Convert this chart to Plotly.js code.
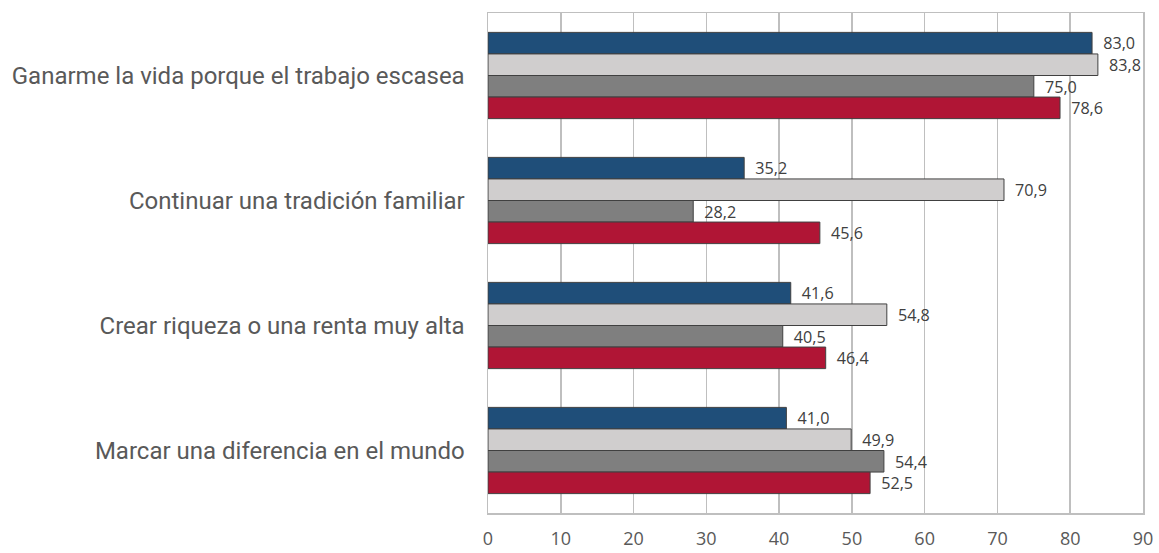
<!DOCTYPE html>
<html><head><meta charset="utf-8">
<script src="https://cdn.plot.ly/plotly-3.0.1.min.js"></script>
<style>body{margin:0;background:#fff}#c{width:1159px;height:553px}</style>
</head><body><div id="c"></div>
<script>
const categories = ["Ganarme la vida porque el trabajo escasea","Continuar una tradición familiar","Crear riqueza o una renta muy alta","Marcar una diferencia en el mundo"];
const seriesNames = ["Serie 1","Serie 2","Serie 3","Serie 4"];
const serie1 = [83.0, 35.2, 41.6, 41.0];
const serie2 = [83.8, 70.9, 54.8, 49.9];
const serie3 = [75.0, 28.2, 40.5, 54.4];
const serie4 = [78.6, 45.6, 46.4, 52.5];
const colors = ["#1F4E79","#D0CECE","#7F7F7F","#B01535"];
const xTicks = [0,10,20,30,40,50,60,70,80,90];

const all = [serie1, serie2, serie3, serie4];
const fmt = v => '\u2002' + v.toFixed(1).replace('.', ',');
const traces = all.map((vals, i) => ({
  type: 'bar', orientation: 'h', name: seriesNames[i],
  y: categories, x: vals,
  text: vals.map(fmt), textposition: 'outside', cliponaxis: false,
  textfont: {family: 'Open Sans, sans-serif', size: 18, color: '#404040'},
  marker: {color: colors[i], line: {color: '#404040', width: 1}},
  hoverinfo: 'x+y'
}));

const layout = {
  width: 1159, height: 553,
  margin: {l: 488, r: 16, t: 13, b: 40},
  barmode: 'group', bargap: 0.31, bargroupgap: 0,
  showlegend: false,
  paper_bgcolor: '#fff', plot_bgcolor: '#fff',
  xaxis: {range: [0, 90], tickvals: xTicks, ticktext: xTicks.map(String),
    showgrid: true, gridcolor: '#BFBFBF', gridwidth: 1.5,
    showline: true, linecolor: '#BFBFBF', linewidth: 1.5, mirror: true,
    zeroline: false, ticks: '', ticklabelstandoff: 9,
    tickfont: {family: 'Open Sans, sans-serif', size: 18, color: '#595959'}},
  yaxis: {autorange: 'reversed', type: 'category',
    showline: true, linecolor: '#BFBFBF', linewidth: 1.5, mirror: true,
    ticks: '', ticklabelstandoff: 17,
    tickfont: {family: 'Roboto, sans-serif', size: 24, color: '#595959'}}
};
Plotly.newPlot('c', traces, layout, {displayModeBar: false, staticPlot: true});
</script></body></html>
